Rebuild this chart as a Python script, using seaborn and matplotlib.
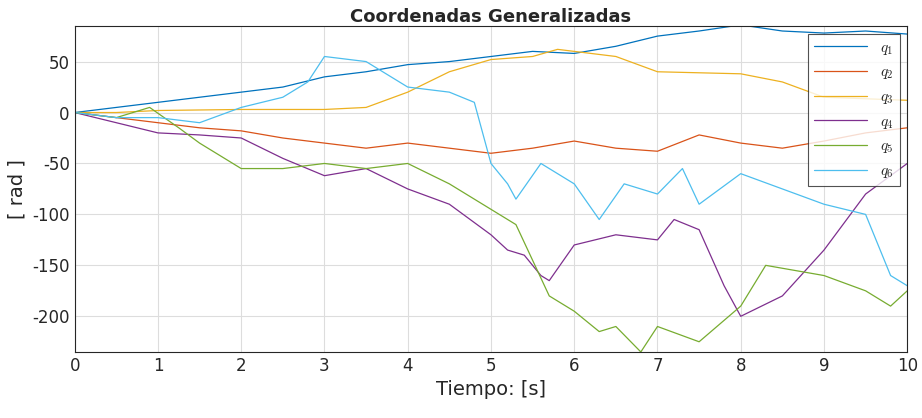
import numpy as np
import pandas as pd
import matplotlib.pyplot as plt
import seaborn as sns

# values (time [s], angle [rad])
t1 = [0, 0.5, 1, 1.5, 2, 2.5, 3, 3.5, 4, 4.5, 5, 5.5, 6, 6.5, 7, 7.5, 8, 8.5, 9, 9.5, 10]
q1 = [0, 5, 10, 15, 20, 25, 35, 40, 47, 50, 55, 60, 58, 65, 75, 80, 86, 80, 78, 80, 77]

t2 = [0, 0.5, 1, 1.5, 2, 2.5, 3, 3.5, 4, 4.5, 5, 5.5, 6, 6.5, 7, 7.5, 8, 8.5, 9, 9.5, 10]
q2 = [0, -5, -10, -15, -18, -25, -30, -35, -30, -35, -40, -35, -28, -35, -38, -22, -30, -35, -28, -20, -15]

t3 = [0, 0.5, 1, 2, 3, 3.5, 4, 4.5, 5, 5.5, 5.8, 6.5, 7, 8, 8.5, 9, 10]
q3 = [0, 0, 2, 3, 3, 5, 20, 40, 52, 55, 62, 55, 40, 38, 30, 15, 12]

t4 = [0, 0.5, 1, 1.5, 2, 2.5, 3, 3.5, 4, 4.5, 5, 5.2, 5.4, 5.6, 5.7, 6, 6.5, 7, 7.2, 7.5, 7.8, 8, 8.5, 9, 9.5, 10]
q4 = [0, -10, -20, -22, -25, -45, -62, -55, -75, -90, -120, -135, -140, -160, -165, -130, -120, -125, -105, -115, -170, -200, -180, -135, -80, -50]

t5 = [0, 0.5, 0.9, 1.25, 1.5, 2, 2.5, 3, 3.5, 4, 4.5, 5, 5.3, 5.7, 6, 6.3, 6.5, 6.8, 7, 7.5, 8, 8.3, 9, 9.5, 9.8, 10]
q5 = [0, -5, 5, -15, -30, -55, -55, -50, -55, -50, -70, -95, -110, -180, -195, -215, -210, -235, -210, -225, -190, -150, -160, -175, -190, -175]

t6 = [0, 0.5, 1, 1.5, 2, 2.5, 2.8, 3, 3.5, 4, 4.5, 4.8, 5, 5.2, 5.3, 5.6, 6, 6.3, 6.6, 7, 7.3, 7.5, 8, 8.5, 9, 9.5, 9.8, 10]
q6 = [0, -5, -5, -10, 5, 15, 30, 55, 50, 25, 20, 10, -50, -70, -85, -50, -70, -105, -70, -80, -55, -90, -60, -75, -90, -100, -160, -170]

series = [(t1, q1), (t2, q2), (t3, q3), (t4, q4), (t5, q5), (t6, q6)]
labels = ['$q_1$', '$q_2$', '$q_3$', '$q_4$', '$q_5$', '$q_6$']
colors = ['#0072BD', '#D95319', '#EDB120', '#7E2F8E', '#77AC30', '#4DBEEE']

sns.set_style('white')
plt.rcParams['axes.unicode_minus'] = False
plt.rcParams['mathtext.fontset'] = 'cm'
fig, ax = plt.subplots(figsize=(9.22, 4.18), dpi=100)
for (t, q), lab, c in zip(series, labels, colors):
    df = pd.DataFrame({'t': t, 'q': q})
    sns.lineplot(data=df, x='t', y='q', ax=ax, color=c, lw=0.9, label=lab)

ax.set_xlim(0, 10)
ax.set_ylim(-235, 85)
ax.set_xticks(range(0, 11))
ax.set_yticks([-200, -150, -100, -50, 0, 50])
ax.grid(True, color='#dddddd', lw=0.8)
ax.tick_params(labelsize=12, direction='in', length=4)
ax.set_xlabel('Tiempo: [s]', fontsize=14)
ax.set_ylabel('[ rad ]', fontsize=14)
ax.set_title('Coordenadas Generalizadas', fontsize=13, fontweight='bold', pad=3)
for s in ax.spines.values():
    s.set_color('#262626')
    s.set_linewidth(0.8)
leg = ax.legend(loc='upper right', fontsize=11, frameon=True, fancybox=False,
                edgecolor='#262626', handlelength=3.5)
leg.get_frame().set_linewidth(0.8)
plt.subplots_adjust(left=0.081, right=0.984, top=0.938, bottom=0.158)
plt.savefig('out.png', dpi=100)
